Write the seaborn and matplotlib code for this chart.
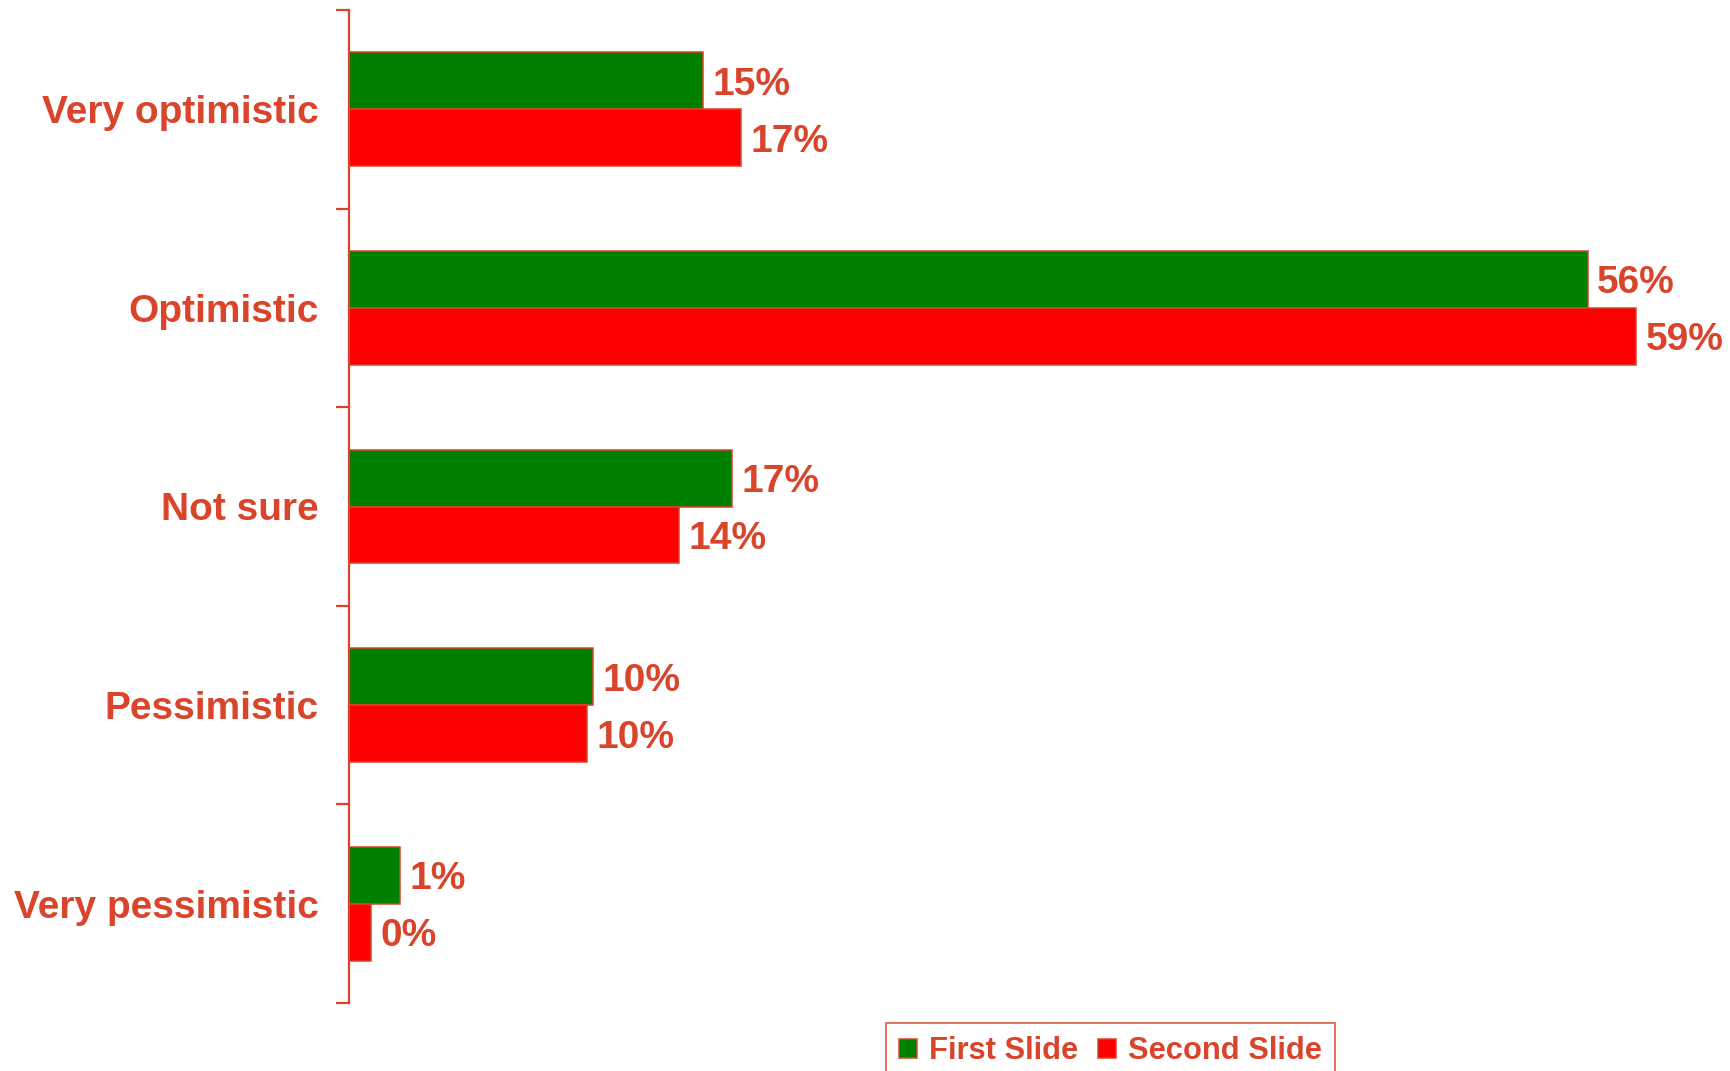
import matplotlib
matplotlib.use("Agg")
import matplotlib.pyplot as plt
import seaborn as sns
import pandas as pd
from matplotlib.patches import Patch
from matplotlib.ticker import FixedLocator

categories = ["Very optimistic", "Optimistic", "Not sure", "Pessimistic", "Very pessimistic"]
series_names = ["First Slide", "Second Slide"]
first_values = [16.1, 56.3, 17.4, 11.1, 2.3]
second_values = [17.8, 58.5, 15.0, 10.8, 1.0]
first_labels = ["15%", "56%", "17%", "10%", "1%"]
second_labels = ["17%", "59%", "14%", "10%", "0%"]

TXT = "#D9442A"
GREEN = "#008000"
RED = "#FF0000"

sns.set_theme(style="white")
plt.rcParams["font.family"] = ["Liberation Sans", "DejaVu Sans"]
plt.rcParams["font.weight"] = "bold"

df = pd.DataFrame({
    "Category": categories * 2,
    "Series": [series_names[0]] * len(categories) + [series_names[1]] * len(categories),
    "Value": first_values + second_values,
})

fig = plt.figure(figsize=(17.31, 10.71), dpi=100)
ax = fig.add_axes([349 / 1731, 1 - 1003 / 1071, (1700 - 349) / 1731, (1003 - 10) / 1071])

sns.barplot(data=df, y="Category", x="Value", hue="Series", orient="h",
            palette=[GREEN, RED], width=0.574, edgecolor=TXT, linewidth=1.1,
            ax=ax, legend=False, saturation=1)

ax.set_xlim(0, (1700 - 349) / 22)
ax.set_ylim(len(categories) - 0.5, -0.5)
ax.set_xlabel("")
ax.set_ylabel("")
ax.set_xticks([])

for s in ["top", "right", "bottom"]:
    ax.spines[s].set_visible(False)
ax.spines["left"].set_color(TXT)
ax.spines["left"].set_linewidth(1.6)

ax.set_yticks(range(len(categories)))
ax.set_yticklabels(categories, fontsize=28, fontweight="bold", color=TXT)
ax.tick_params(axis="y", which="major", length=0, pad=22)
ax.yaxis.set_minor_locator(FixedLocator([i - 0.5 for i in range(len(categories) + 1)]))
ax.tick_params(axis="y", which="minor", length=9.5, width=1.6, color=TXT, direction="out", left=True)

labels_by_series = [first_labels, second_labels]
for container, labs in zip(ax.containers, labels_by_series):
    texts = ax.bar_label(container, labels=labs, padding=7, fontsize=28,
                         fontweight="bold", color=TXT)
    for t in texts:
        t.set_va("center_baseline")

handles = [Patch(facecolor=GREEN, edgecolor=TXT, linewidth=1.1),
           Patch(facecolor=RED, edgecolor=TXT, linewidth=1.1)]
leg = fig.legend(handles, series_names, loc="upper left",
                 bbox_to_anchor=(886 / 1731, 1 - 1023 / 1071), ncol=2,
                 fontsize=22.2, frameon=True, fancybox=False,
                 handlelength=0.57, handleheight=0.57, handletextpad=0.4,
                 columnspacing=0.65, borderpad=0.42, borderaxespad=0)
leg.get_frame().set_edgecolor(TXT)
leg.get_frame().set_linewidth(1.3)
for t in leg.get_texts():
    t.set_color(TXT)
    t.set_fontweight("bold")

fig.savefig("out.png", dpi=100)
